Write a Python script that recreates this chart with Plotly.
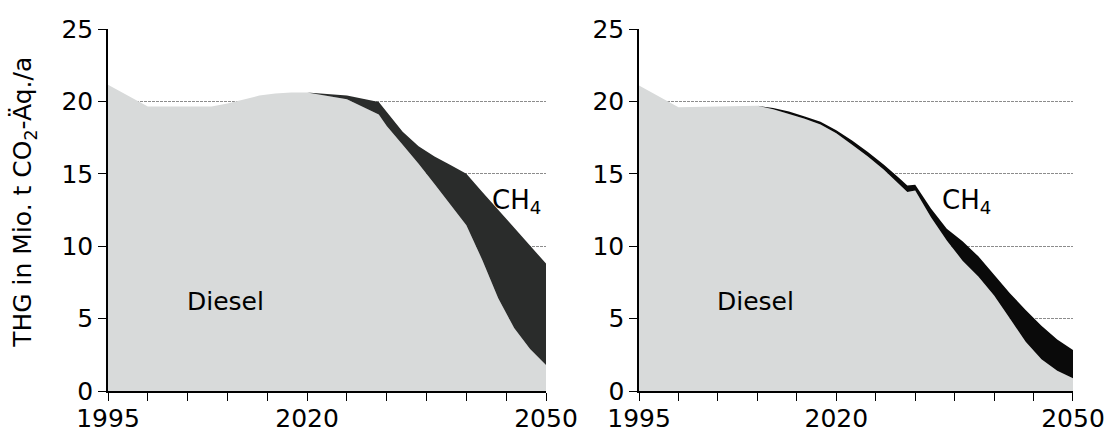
import plotly.graph_objects as go
from plotly.subplots import make_subplots

# ---------------- data ----------------
left_years = [1995, 2000, 2005, 2008, 2010, 2012, 2014, 2016, 2018, 2020, 2025, 2029, 2030,
              2032, 2034, 2036, 2038, 2040, 2042, 2044, 2046, 2048, 2050]
left_diesel = [21.15, 19.65, 19.65, 19.65, 19.85, 20.15, 20.4, 20.55, 20.62, 20.62, 20.15, 19.1, 18.3,
               17.0, 15.7, 14.3, 12.9, 11.45, 9.05, 6.4, 4.35, 2.9, 1.8]
left_ch4 = [0, 0, 0, 0, 0, 0, 0, 0, 0, 0, 0.25, 0.85, 0.95,
            0.9, 1.2, 1.9, 2.7, 3.55, 4.7, 6.1, 6.95, 7.15, 7.0]

right_years = [1995, 2000, 2005, 2010, 2012, 2014, 2016, 2018, 2020, 2022, 2024, 2026, 2028, 2029,
               2030, 2032, 2034, 2036, 2038, 2040, 2042, 2044, 2046, 2048, 2050]
right_diesel = [21.1, 19.6, 19.65, 19.7, 19.45, 19.15, 18.8, 18.4, 17.8, 17.0, 16.2, 15.3, 14.3, 13.75,
                13.85, 12.0, 10.4, 9.0, 7.9, 6.6, 5.0, 3.4, 2.2, 1.4, 0.88]
right_ch4 = [0, 0, 0, 0, 0.1, 0.15, 0.15, 0.2, 0.2, 0.3, 0.3, 0.35, 0.4, 0.45,
             0.4, 0.6, 0.8, 1.35, 1.4, 1.45, 1.75, 2.2, 2.3, 2.15, 1.95]

x_tickvals = [1995, 2000, 2005, 2010, 2015, 2020, 2025, 2030, 2035, 2040, 2045, 2050]
x_ticktext = ["1995", "", "", "", "", "2020", "", "", "", "", "", "2050"]
y_tickvals = [0, 5, 10, 15, 20, 25]

y_title = "THG in Mio. t CO<sub>2</sub>-Äq./a"
label_diesel = "Diesel"
label_ch4 = "CH<sub>4</sub>"

DIESEL_COLOR = "rgb(216,218,218)"
CH4_LEFT = "rgb(42,44,43)"
CH4_RIGHT = "rgb(10,10,10)"
FONT = "DejaVu Sans"

fig = make_subplots(rows=1, cols=2, horizontal_spacing=0.0964)

for col, yrs, dsl, ch4, ch4c in [(1, left_years, left_diesel, left_ch4, CH4_LEFT),
                                  (2, right_years, right_diesel, right_ch4, CH4_RIGHT)]:
    fig.add_trace(go.Scatter(x=yrs, y=dsl, mode="lines", line=dict(width=0),
                             fillcolor=DIESEL_COLOR, stackgroup=f"s{col}", name="Diesel",
                             showlegend=False), row=1, col=col)
    fig.add_trace(go.Scatter(x=yrs, y=ch4, mode="lines", line=dict(width=0),
                             fillcolor=ch4c, stackgroup=f"s{col}", name="CH4",
                             showlegend=False), row=1, col=col)

fig.update_xaxes(range=[1995, 2050], tickmode="array", tickvals=x_tickvals, ticktext=x_ticktext,
                 ticks="outside", ticklen=8, tickwidth=1.3, tickcolor="black",
                 showline=True, linecolor="black", linewidth=1.5, showgrid=False, zeroline=False,
                 automargin=False, ticklabelstandoff=-4,
                 tickfont=dict(family=FONT, size=25, color="black"))
fig.update_yaxes(range=[0, 25], tickmode="array", tickvals=y_tickvals,
                 ticks="outside", ticklen=8, tickwidth=1.3, tickcolor="black",
                 showline=True, linecolor="black", linewidth=1.5, automargin=False,
                 showgrid=True, gridcolor="rgb(140,140,140)", gridwidth=1, griddash="3px,1px",
                 zeroline=False, tickfont=dict(family=FONT, size=25, color="black"))

fig.update_layout(
    width=1107, height=433,
    margin=dict(l=108, r=34, t=29, b=42),
    plot_bgcolor="white", paper_bgcolor="white",
    font=dict(family=FONT, color="black"),
)
fig.layout.xaxis.domain = [0, 0.4539]
fig.layout.xaxis2.domain = [0.5503, 1]

annos = [
    dict(text=y_title, xref="paper", yref="paper", x=-0.087, y=0.52, textangle=-90,
         showarrow=False, xanchor="center", yanchor="middle", font=dict(size=25, family=FONT)),
    dict(text=label_diesel, xref="x", yref="y", x=2009.8, y=6.2, showarrow=False,
         xanchor="center", yanchor="middle", font=dict(size=25, family=FONT)),
    dict(text=label_ch4, xref="x", yref="y", x=2043.0, y=13.1, showarrow=False,
         xanchor="left", yanchor="middle", font=dict(size=26, family=FONT)),
    dict(text=label_diesel, xref="x2", yref="y2", x=2009.8, y=6.2, showarrow=False,
         xanchor="center", yanchor="middle", font=dict(size=25, family=FONT)),
    dict(text=label_ch4, xref="x2", yref="y2", x=2033.1, y=13.1, showarrow=False,
         xanchor="left", yanchor="middle", font=dict(size=26, family=FONT)),
]
fig.update_layout(annotations=annos)

fig.write_html("out.html")
